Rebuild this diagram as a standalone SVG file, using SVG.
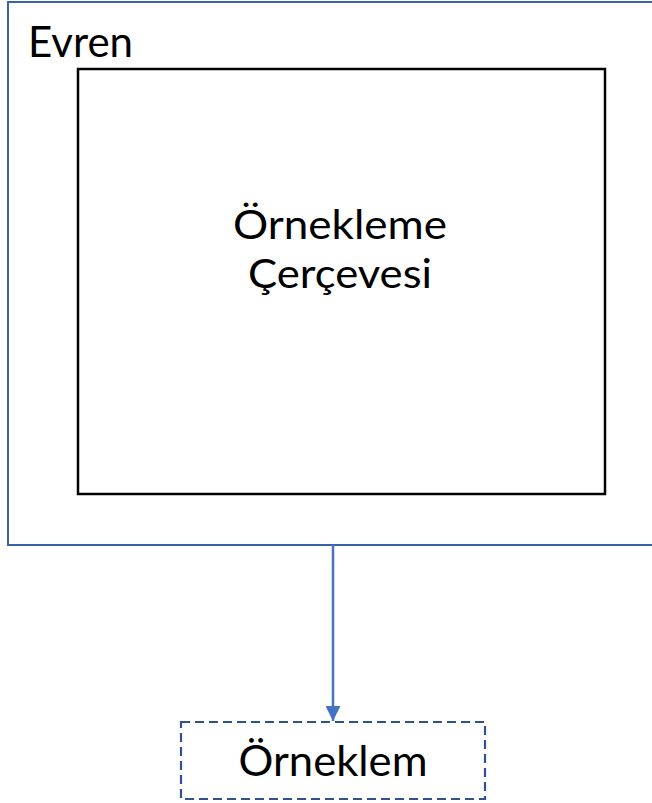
<svg xmlns="http://www.w3.org/2000/svg" width="652" height="803" viewBox="0 0 652 803">
  <style>
    .lbl { font-family: Lato, "Open Sans", "Liberation Sans", sans-serif; font-size: 42px; fill: #000; }
    .mid { text-anchor: middle; }
    .two { font-size: 40.8px; }
  </style>
  <defs>
    <marker id="arrow" viewBox="0 0 10 10" refX="10" refY="5" markerWidth="16" markerHeight="15" markerUnits="userSpaceOnUse" orient="auto">
      <path d="M0,0 L10,5 L0,10 z" fill="#4472C4"/>
    </marker>
  </defs>
  <rect width="652" height="803" fill="#fff"/>
  <g id="evren">
    <rect x="8" y="2" width="660" height="543" fill="none" stroke="#3B62A8" stroke-width="2"/>
    <text class="lbl" x="28" y="57" textLength="105" lengthAdjust="spacingAndGlyphs">Evren</text>
  </g>
  <g id="cerceve">
    <rect x="78" y="69" width="527" height="425" fill="none" stroke="#000" stroke-width="2.5"/>
    <text class="lbl two mid" x="340" y="239" textLength="214" lengthAdjust="spacingAndGlyphs">Örnekleme</text>
    <text class="lbl two mid" x="340" y="288" textLength="184" lengthAdjust="spacingAndGlyphs">Çerçevesi</text>
  </g>
  <g id="orneklem">
    <rect x="181" y="722" width="304" height="77" fill="none" stroke="#2F528F" stroke-width="2.2" stroke-dasharray="9,5"/>
    <text class="lbl mid" x="333" y="776" textLength="189" lengthAdjust="spacingAndGlyphs">Örneklem</text>
  </g>
  <g id="connectors">
    <line x1="333" y1="545" x2="333" y2="721" stroke="#4472C4" stroke-width="2.5" marker-end="url(#arrow)"/>
  </g>
</svg>
